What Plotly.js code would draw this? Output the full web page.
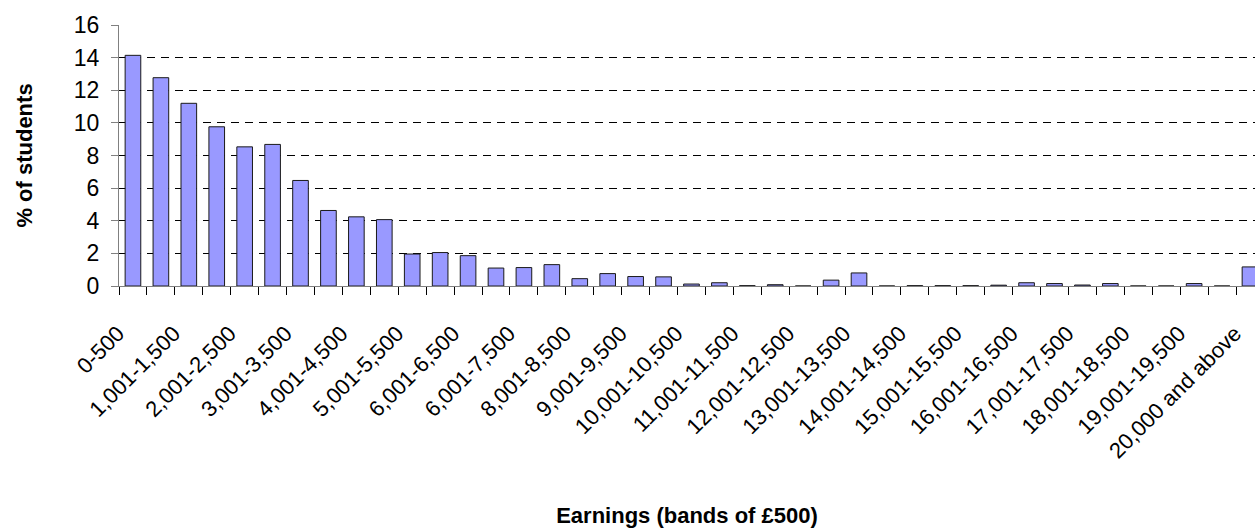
<!DOCTYPE html>
<html>
<head>
<meta charset="utf-8">
<script src="https://cdn.plot.ly/plotly-3.0.1.min.js"></script>
<style>
  html, body { margin: 0; padding: 0; background: #fff; overflow: hidden; }
  #chart { width: 1255px; height: 528px; }
</style>
</head>
<body>
<div id="chart"></div>
<script>
// Earnings bands (all 41 categories)
const categories = [
  "0-500", "501-1,000", "1,001-1,500", "1,501-2,000", "2,001-2,500", "2,501-3,000",
  "3,001-3,500", "3,501-4,000", "4,001-4,500", "4,501-5,000", "5,001-5,500", "5,501-6,000",
  "6,001-6,500", "6,501-7,000", "7,001-7,500", "7,501-8,000", "8,001-8,500", "8,501-9,000",
  "9,001-9,500", "9,501-10,000", "10,001-10,500", "10,501-11,000", "11,001-11,500", "11,501-12,000",
  "12,001-12,500", "12,501-13,000", "13,001-13,500", "13,501-14,000", "14,001-14,500", "14,501-15,000",
  "15,001-15,500", "15,501-16,000", "16,001-16,500", "16,501-17,000", "17,001-17,500", "17,501-18,000",
  "18,001-18,500", "18,501-19,000", "19,001-19,500", "19,501-20,000", "20,000 and above"
];

// % of students in each band
const pctStudents = [
  14.14, 12.77, 11.2, 9.76, 8.53, 8.68, 6.47, 4.63, 4.24, 4.07,
  1.96, 2.05, 1.86, 1.1, 1.13, 1.31, 0.45, 0.76, 0.58, 0.56,
  0.12, 0.2, 0.02, 0.08, 0, 0.36, 0.8, 0, 0.02, 0.02,
  0.02, 0.05, 0.2, 0.15, 0.06, 0.15, 0, 0, 0.15, 0, 1.17
];

// Tick labels as printed on the original (every other band; original typo kept)
const tickLabels = [
  "0-500", "1,001-1,500", "2,001-2,500", "3,001-3,500", "4,001-4,500", "5,001-5,500",
  "6,001-6,500", "6,001-7,500", "8,001-8,500", "9,001-9,500", "10,001-10,500", "11,001-11,500",
  "12,001-12,500", "13,001-13,500", "14,001-14,500", "15,001-15,500", "16,001-16,500",
  "17,001-17,500", "18,001-18,500", "19,001-19,500", "20,000 and above"
];

const yTicks = [0, 2, 4, 6, 8, 10, 12, 14, 16];

// Labels shown on every other category, blank in between
const shownText = categories.map((c, i) => (i % 2 === 0 ? tickLabels[i / 2] : ""));

const FONT = "Liberation Sans, Arial, sans-serif";

const trace = {
  type: "bar",
  x: categories,
  y: pctStudents,
  marker: { color: "#9999FF", line: { color: "#1a1a1a", width: 1 } },
  hoverinfo: "x+y"
};

const layout = {
  width: 1255,
  height: 528,
  margin: { l: 119, r: 0, t: 25, b: 242 },
  paper_bgcolor: "#ffffff",
  plot_bgcolor: "#ffffff",
  showlegend: false,
  bargap: 0.44,
  font: { family: FONT, size: 22, color: "#000" },
  xaxis: {
    type: "category",
    range: [-0.5, 40.18],
    tickmode: "array",
    tickvals: categories,
    ticktext: shownText,
    tickson: "boundaries",
    ticks: "outside",
    ticklen: 8,
    tickcolor: "#000",
    tickangle: -45,
    ticklabelshift: -15,
    ticklabelstandoff: 25,
    tickfont: { family: FONT, size: 22, color: "#000" },
    showline: true,
    linecolor: "#808080",
    linewidth: 1,
    showgrid: false,
    zeroline: false,
    automargin: false,
    title: {
      text: "<b>Earnings (bands of £500)</b>",
      font: { family: FONT, size: 22, color: "#000" },
      standoff: 64
    }
  },
  yaxis: {
    range: [0, 16],
    tickmode: "array",
    tickvals: yTicks,
    ticks: "outside",
    ticklen: 7,
    tickcolor: "#808080",
    ticklabelstandoff: 7,
    tickfont: { family: FONT, size: 23, color: "#000" },
    showline: true,
    linecolor: "#808080",
    linewidth: 1,
    showgrid: true,
    gridcolor: "#000000",
    griddash: "8px,6px",
    gridwidth: 1,
    zeroline: false,
    automargin: false,
    title: {
      text: "<b>% of students</b>",
      font: { family: FONT, size: 22, color: "#000" },
      standoff: 35
    }
  }
};

Plotly.newPlot("chart", [trace], layout, { staticPlot: true, displayModeBar: false });
</script>
</body>
</html>
